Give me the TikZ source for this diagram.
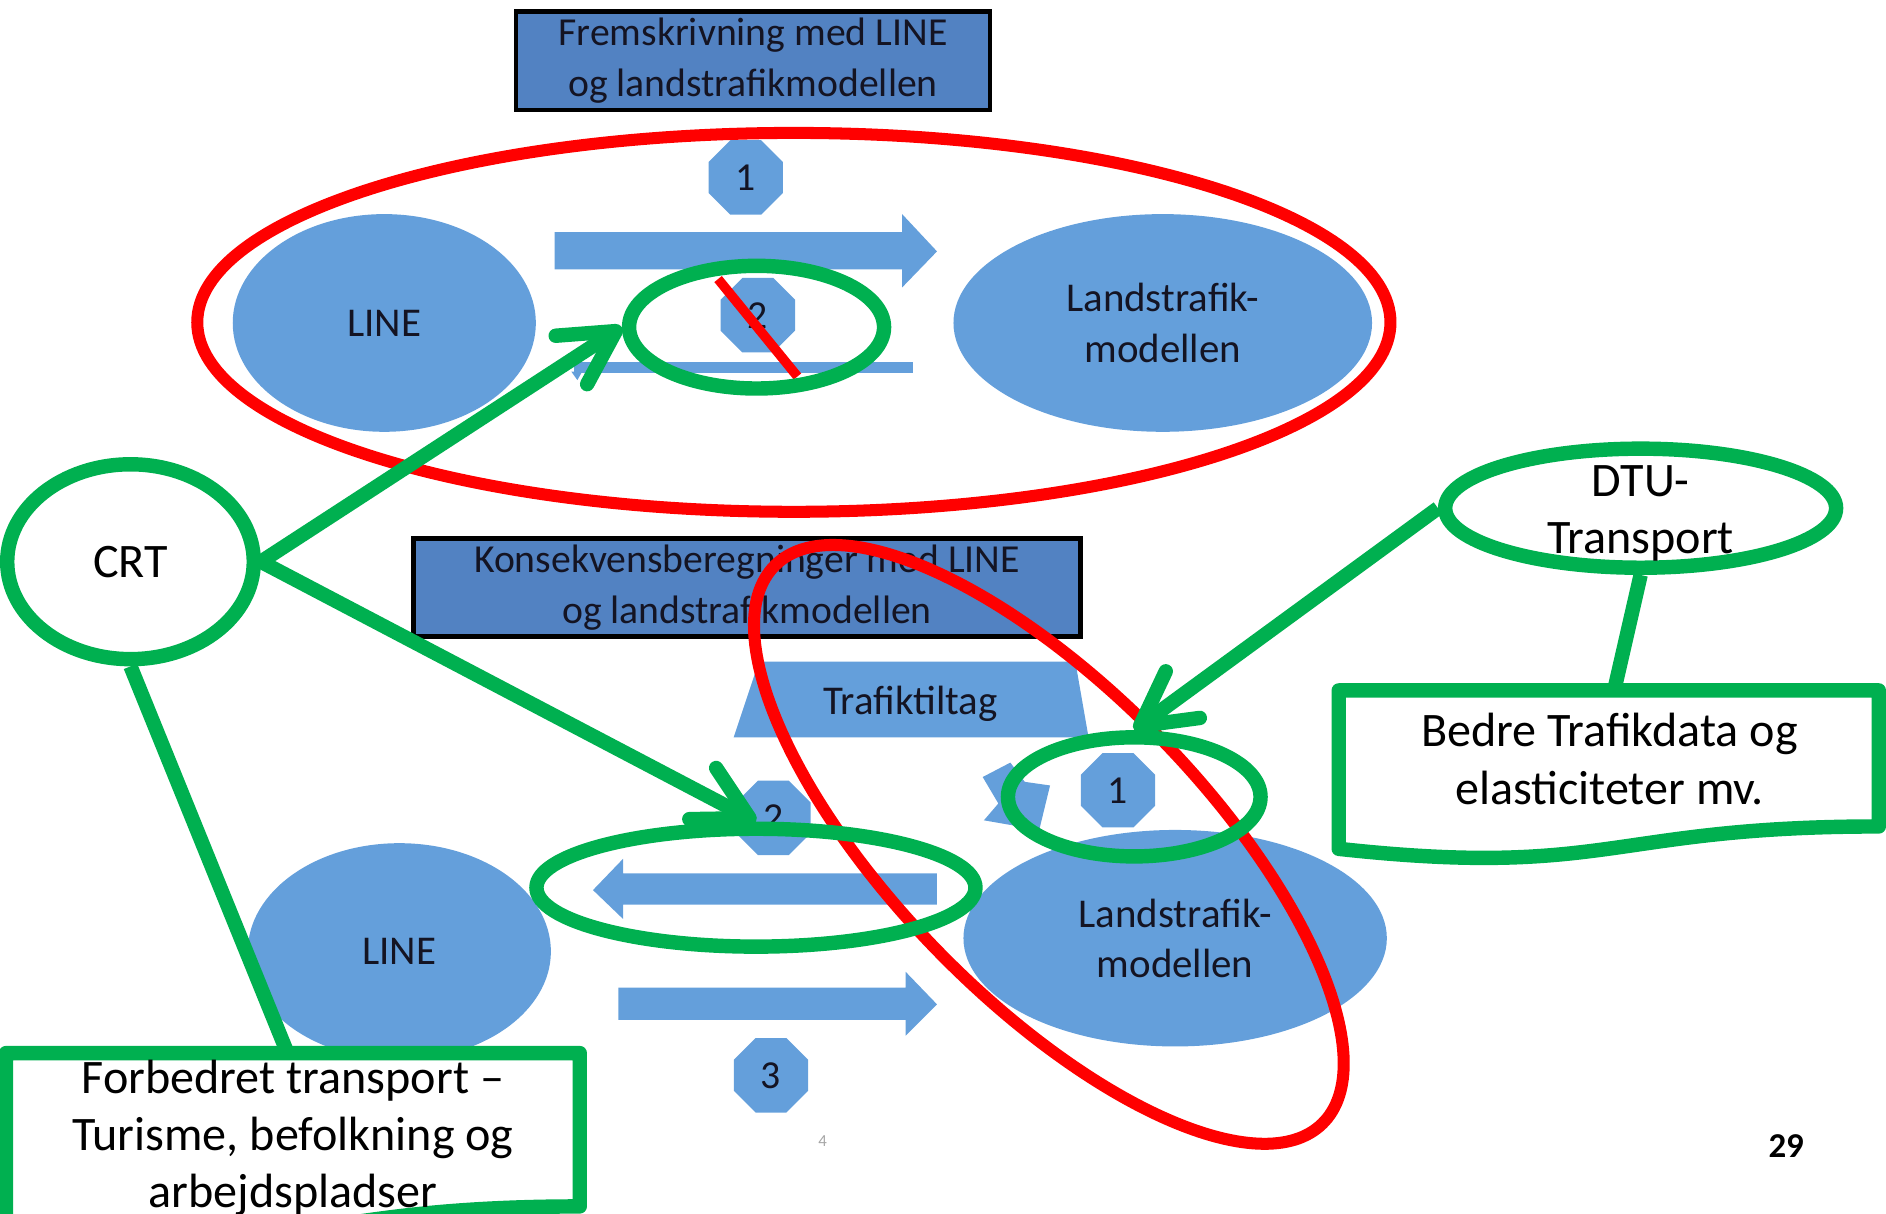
\documentclass[tikz,border=0pt]{standalone}
\usepackage{fontspec}
\setmainfont{Carlito}
\usetikzlibrary{shapes.geometric,arrows.meta,calc}
\definecolor{shapeblue}{RGB}{100,159,219}
\definecolor{boxblue}{RGB}{82,130,194}
\definecolor{grn}{RGB}{0,176,80}
\definecolor{redc}{RGB}{255,0,0}
\definecolor{txtdark}{RGB}{20,20,35}
\begin{document}
\begin{tikzpicture}[x=1pt,y=-1pt,
  blueell/.style={ellipse, fill=shapeblue, draw=none, inner sep=0pt, align=center,
    text=txtdark, font=\fontsize{34}{42}\selectfont},
  octa/.style={regular polygon, regular polygon sides=8, minimum size=67pt, inner sep=0pt,
    fill=shapeblue, draw=none, text=txtdark, font=\fontsize{33}{40}\selectfont},
  hdrbox/.style={rectangle, fill=boxblue, draw=black, line width=4pt, inner sep=0pt,
    align=center, text=txtdark, font=\fontsize{33}{42}\selectfont},
  bluetxt/.style={inner sep=0pt, text=txtdark, font=\fontsize{34}{42}\selectfont},
  gring/.style={ellipse, draw=grn, line width=12pt, inner sep=0pt, align=center,
    font=\fontsize{40}{47.5}\selectfont},
  gline/.style={draw=grn, line width=12pt},
  garrow/.style={draw=grn, line width=12pt,
    -{Straight Barb[length=44pt,width=48pt,round]}},
  gtext/.style={inner sep=0pt, align=center, font=\fontsize{40}{47.5}\selectfont},
  redring/.style={draw=redc, line width=10pt}
]
\useasboundingbox (0,0) rectangle (1568,1009.3);

% ---------- top diagram ----------
\node[hdrbox, minimum width=394pt, minimum height=82pt] (hdrA) at (626,50.5)
  {Fremskrivning med LINE\\og landstrafikmodellen};
\node[blueell, minimum width=252pt, minimum height=181pt] (lineA) at (319.5,268.5) {LINE};
\node[blueell, minimum width=348pt, minimum height=181pt] (landA) at (966.7,268.5)
  {Landstrafik-\\modellen};
\node[octa] (oneA) at (620,147.5) {1};
\node[octa] (twoA) at (630,262) {2};
\fill[shapeblue] (461,193) -- (750,193) -- (750,178) -- (779,209) -- (750,239)
  -- (750,224) -- (461,224) -- cycle;
\fill[shapeblue] (477,301) rectangle (759,310);
\fill[shapeblue] (475,309) -- (484,309) -- (480,316) -- cycle;

% ---------- bottom diagram ----------
\node[hdrbox, minimum width=554pt, minimum height=81pt] (hdrB) at (621,488.5)
  {Konsekvensberegninger med LINE\\og landstrafikmodellen};
\fill[shapeblue] (631,550) -- (894,550) -- (905,613) -- (610,613) -- cycle;
\node[bluetxt] (tiltag) at (757,585) {Trafiktiltag};
\fill[shapeblue] (817,646) -- (840,634) -- (852,650) -- (873,653) -- (864,690)
  -- (818,682) -- (830,668) -- cycle;
\node[octa] (oneB) at (929.5,657) {1};
\node[octa] (twoB) at (643,680) {2};
\node[octa] (threeB) at (641,894) {3};
\node[blueell, minimum width=252pt, minimum height=180pt] (lineB) at (332,791) {LINE};
\node[blueell, minimum width=352pt, minimum height=180pt] (landB) at (977,780)
  {Landstrafik-\\modellen};
\fill[shapeblue] (779,726) -- (518,726) -- (518,714) -- (493,740) -- (518,764)
  -- (518,752) -- (779,752) -- cycle;
\fill[shapeblue] (514,821) -- (753,821) -- (753,808) -- (779,835) -- (753,861)
  -- (753,848) -- (514,848) -- cycle;
\node[inner sep=0pt, text=gray!70, font=\fontsize{14}{14}\selectfont] (four) at (684,949) {4};
\node[inner sep=0pt, font=\bfseries\fontsize{29}{29}\selectfont] (pg) at (1485,953) {29};

% ---------- red marks ----------
\draw[redring] (660,268) ellipse [x radius=496, y radius=157.5];
\draw[redring, rotate around={-45.6:(872,702)}] (872,702) ellipse [x radius=325, y radius=128];
\draw[draw=redc, line width=8pt] (597,232) -- (663,313);

% ---------- green annotations ----------
\node[gring, minimum width=212pt, minimum height=102pt] (gA) at (629,272) {};
\node[gring, minimum width=210pt, minimum height=99pt] (g1) at (943,662.5) {};
\node[gring, minimum width=365pt, minimum height=98pt] (gB) at (628.5,738) {};
\node[gring, fill=white, minimum width=205pt, minimum height=162pt] (crt) at (108.5,467) {CRT};
\node[gring, fill=white, minimum width=325pt, minimum height=99pt] (dtu) at (1364,422.5) {};
\node[gtext] (dtulbl) at (1364,427) {DTU-\\Transport};

\coordinate (bedreTop) at (1342,574);
\coordinate (forbTop) at (239,875.5);
\draw[gline] (crt.south) -- (forbTop);
\draw[gline] (dtu.south) -- (bedreTop);

\draw[gline, fill=white, line join=round] (1113,574) -- (1562,574) -- (1562,687.1)
  .. controls (1337.5,687.1) and (1337.5,730.2) .. (1113,705.7) -- cycle;
\node[gtext] (bedre) at (1338,631) {Bedre Trafikdata og\\elasticiteter mv.};
\draw[gline, fill=white, line join=round] (5,875.5) -- (482,875.5) -- (482,1003)
  .. controls (243.5,1003) and (243.5,1051.7) .. (5,1024) -- cycle;
\node[gtext] (forb) at (243.5,946) {Forbedret transport –\\Turisme, befolkning og\\arbejdspladser};

\draw[garrow] (crt.east) -- (gA.west);
\draw[garrow] (crt.east) -- (gB.north);
\draw[garrow] (dtu.west) -- (g1.north);
\end{tikzpicture}
\end{document}
